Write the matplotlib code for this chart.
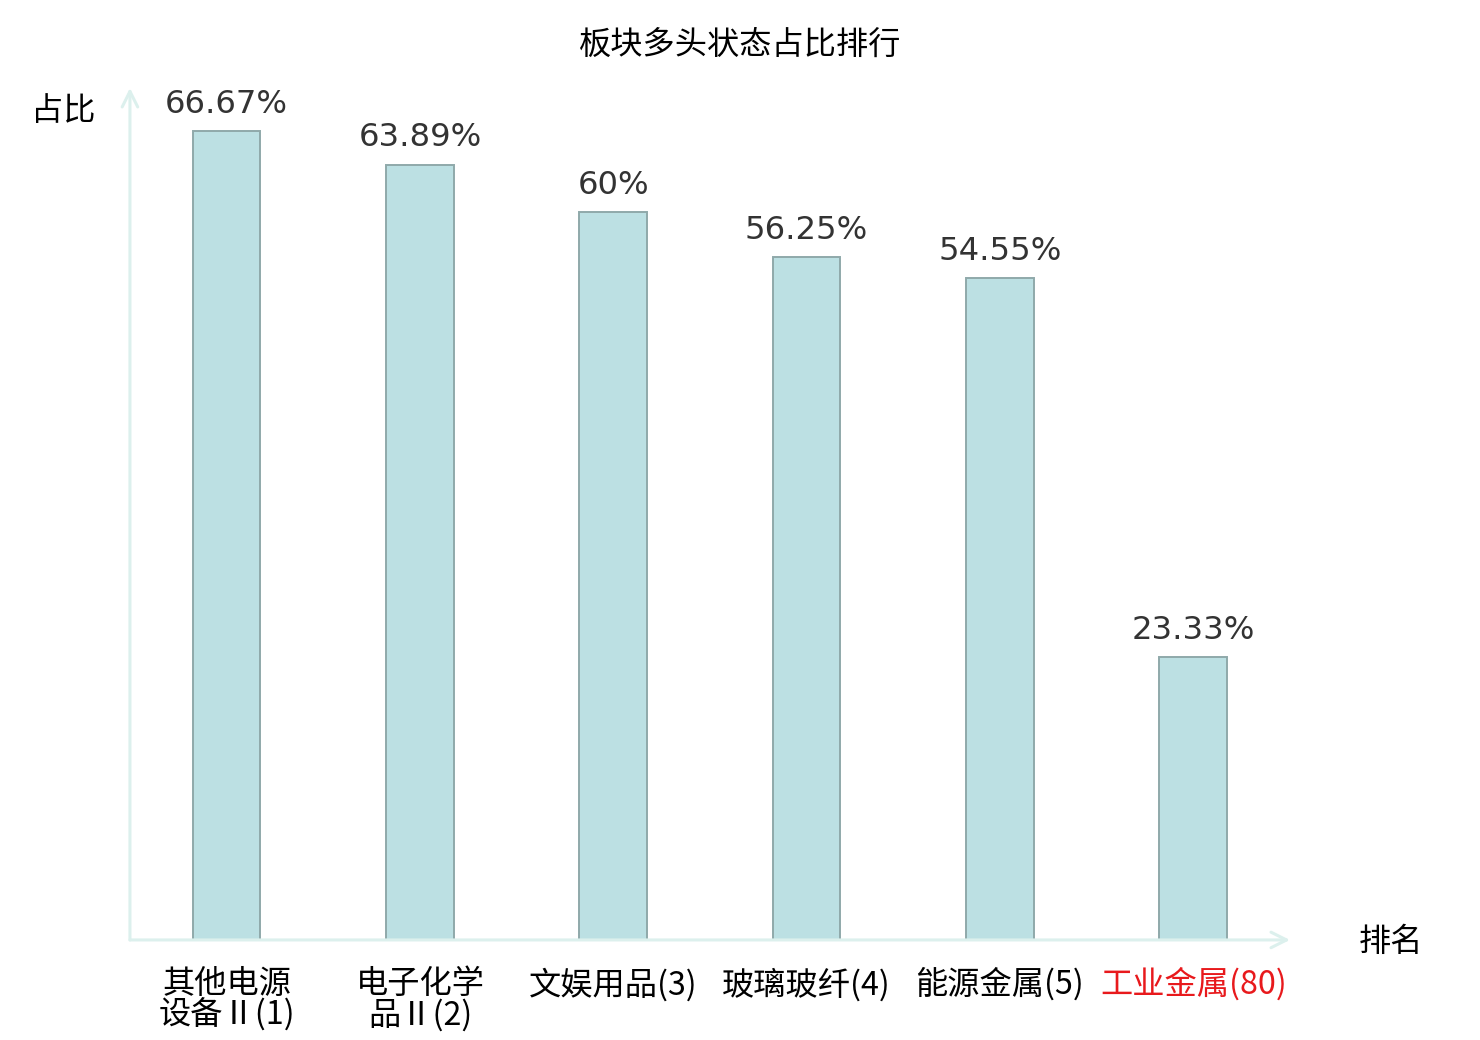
import numpy as np
import matplotlib
matplotlib.use('Agg')
import matplotlib.pyplot as plt

plt.rcParams['font.family'] = ['Noto Sans CJK SC', 'DejaVu Sans']

# 数据
categories = ['其他电源\n设备Ⅱ(1)', '电子化学\n品Ⅱ(2)', '文娱用品(3)',
              '玻璃玻纤(4)', '能源金属(5)', '工业金属(80)']
values = [66.67, 63.89, 60, 56.25, 54.55, 23.33]
label_colors = ['black', 'black', 'black', 'black', 'black', '#e8191c']

axis_color = '#dcf0ed'

fig = plt.figure(figsize=(7.4, 5.2), dpi=200)
ax = fig.add_axes([0.0878, 0.0962, 0.7838, 0.8192])

x = np.arange(len(categories))
bars = ax.bar(x, values, width=0.35, color='#bce0e3', edgecolor='#8fa9aa', linewidth=0.7)

for b, v in zip(bars, values):
    ax.annotate(f'{v:g}%', (b.get_x() + b.get_width() / 2, v),
                xytext=(0, 4), textcoords='offset points',
                ha='center', va='bottom', fontsize=11.6,
                color='#333333', family='DejaVu Sans')

ax.set_xlim(-0.5, 5.5)
ax.set_ylim(0, 70.2)
ax.set_xticks(x)
ax.set_xticklabels(categories, fontsize=11.6, linespacing=0.95)
for lbl, c in zip(ax.get_xticklabels(), label_colors):
    lbl.set_color(c)
ax.tick_params(axis='x', length=0, pad=10)
ax.set_yticks([])
for s in ax.spines.values():
    s.set_visible(False)

# 坐标轴箭头
ax.annotate('', xy=(0, 1), xytext=(0, 0), xycoords='axes fraction',
            arrowprops=dict(arrowstyle='->', color=axis_color, lw=1.1,
                            mutation_scale=14, shrinkA=0, shrinkB=0))
ax.annotate('', xy=(1, 0), xytext=(0, 0), xycoords='axes fraction',
            arrowprops=dict(arrowstyle='->', color=axis_color, lw=1.1,
                            mutation_scale=14, shrinkA=0, shrinkB=0))

fig.text(0.5, 0.957, '板块多头状态占比排行', ha='center', va='center', fontsize=11.6)
fig.text(0.043, 0.893, '占比', ha='center', va='center', fontsize=11.6)
fig.text(0.94, 0.094, '排名', ha='center', va='center', fontsize=11.6)

fig.savefig('out.png', dpi=200)
